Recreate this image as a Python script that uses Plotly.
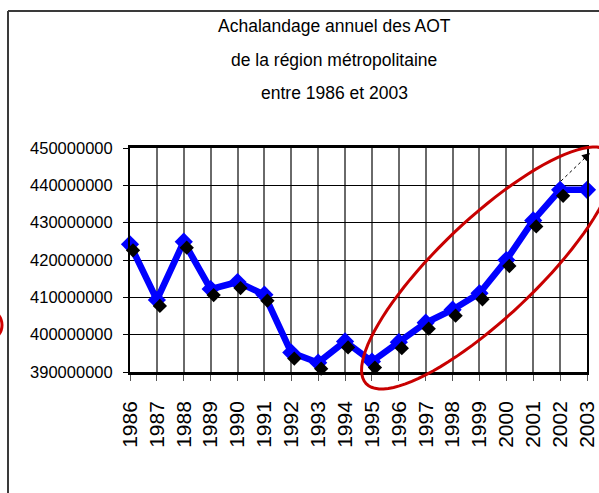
import math

import plotly.graph_objects as go

# annual ridership of the metropolitan transit authorities (AOT)
YEARS = list(range(1986, 2004))
RIDERSHIP = [
    424.2e6, 409.3e6, 424.9e6, 412.2e6, 414.1e6, 410.7e6, 395.2e6, 392.5e6, 398.2e6,
    392.8e6, 398.0e6, 403.2e6, 406.7e6, 411.1e6, 420.0e6, 430.6e6, 438.8e6, 438.8e6,
]
Y_TICKS = list(range(390_000_000, 450_000_001, 10_000_000))
X_LABELS = [str(y) for y in YEARS]
TITLE_LINES = [
    "Achalandage annuel des AOT",
    "de la région métropolitaine",
    "entre 1986 et 2003",
]

W, H = 599, 493
L, R, T, B = 130, 12, 148, 121
PW, PH = W - L - R, H - T - B
FONT = "Liberation Sans, Arial, sans-serif"

X_RANGE = [YEARS[0], YEARS[-1]]
Y_RANGE = [Y_TICKS[0], Y_TICKS[-1]]


def paper(x, y):
    # pixel position in the page -> paper coordinates
    return (x - L) / PW, (H - B - y) / PH


# black diamonds sit a few pixels down/right of the blue ones (shadow)
dx = 3 * (X_RANGE[1] - X_RANGE[0]) / PW
dy = 6 * (Y_RANGE[1] - Y_RANGE[0]) / PH

fig = go.Figure()
fig.add_trace(
    go.Scatter(
        x=YEARS,
        y=RIDERSHIP,
        mode="markers",
        marker={"symbol": "diamond", "size": 11, "color": "black"},
        xaxis="x2",
        yaxis="y2",
        cliponaxis=False,
        hoverinfo="skip",
        showlegend=False,
    )
)
fig.add_trace(
    go.Scatter(
        x=YEARS,
        y=RIDERSHIP,
        mode="lines+markers",
        line={"color": "#0000FF", "width": 6.5},
        marker={"symbol": "diamond", "size": 14, "color": "#0000FF"},
        cliponaxis=False,
        showlegend=False,
    )
)

# red ellipse around 1995-2003
cx, cy, a, b, ang = 488, 268, 168, 49, math.radians(43.5)
pts = []
for i in range(97):
    t = 2 * math.pi * i / 96
    ex, ey = a * math.cos(t), b * math.sin(t)
    px_ = cx + ex * math.cos(ang) + ey * math.sin(ang)
    py_ = cy - ex * math.sin(ang) + ey * math.cos(ang)
    pts.append(paper(px_, py_))
path = "M " + " L ".join(f"{x:.4f},{y:.4f}" for x, y in pts) + " Z"

shapes = [
    {"type": "path", "path": path, "xref": "paper", "yref": "paper",
     "line": {"color": "#C80000", "width": 3}},
]

# partial red circle on the left edge
x0, y0 = paper(-34, 342)
x1, y1 = paper(2, 308)
shapes.append({"type": "circle", "xref": "paper", "yref": "paper",
               "x0": x0, "y0": y0, "x1": x1, "y1": y1,
               "line": {"color": "#D00000", "width": 3}})

# outer chart frame (left and top edges visible)
bx0, by0 = paper(8, 11)
bx1, by1 = paper(8, 500)
bx2, _ = paper(610, 11)
shapes.append({"type": "line", "xref": "paper", "yref": "paper",
               "x0": bx0, "y0": by0, "x1": bx1, "y1": by1,
               "line": {"color": "#3a3a3a", "width": 2}})
shapes.append({"type": "line", "xref": "paper", "yref": "paper",
               "x0": bx0, "y0": by0, "x1": bx2, "y1": by0,
               "line": {"color": "#3a3a3a", "width": 2}})

# dotted arrow towards the top right
ax0, ay0 = paper(561, 181)
ax1, ay1 = paper(585, 158)
shapes.append({"type": "line", "xref": "paper", "yref": "paper",
               "x0": ax0, "y0": ay0, "x1": ax1, "y1": ay1,
               "line": {"color": "black", "width": 1, "dash": "dot"}})
tipx, tipy = paper(590, 153)

annotations = [
    {"x": tipx, "y": tipy, "xref": "paper", "yref": "paper", "text": "",
     "showarrow": True, "arrowhead": 2, "arrowsize": 1.6, "arrowwidth": 1,
     "arrowcolor": "black", "ax": -8, "ay": 7},
]
for line, ypx in zip(TITLE_LINES, [26, 60, 93]):
    tx, ty = paper(334, ypx)
    annotations.append({"x": tx, "y": ty, "xref": "paper", "yref": "paper",
                        "text": line, "showarrow": False,
                        "xanchor": "center", "yanchor": "middle",
                        "font": {"size": 17.5, "color": "black", "family": FONT}})

fig.update_layout(
    width=W,
    height=H,
    margin={"l": L, "r": R, "t": T, "b": B},
    paper_bgcolor="white",
    plot_bgcolor="white",
    font={"family": FONT, "color": "black"},
    shapes=shapes,
    annotations=annotations,
    xaxis={
        "range": X_RANGE,
        "tickvals": YEARS,
        "ticktext": X_LABELS,
        "tickangle": -90,
        "tickfont": {"size": 21},
        "ticks": "outside",
        "ticklen": 6,
        "tickcolor": "#555",
        "ticklabelstandoff": 12,
        "showgrid": True,
        "gridcolor": "#6a6a6a",
        "gridwidth": 1.5,
        "showline": True,
        "linecolor": "black",
        "linewidth": 2.5,
        "mirror": True,
        "zeroline": False,
        "automargin": False,
    },
    yaxis={
        "range": Y_RANGE,
        "tickvals": Y_TICKS,
        "tickformat": "d",
        "tickfont": {"size": 16.5},
        "ticks": "outside",
        "ticklen": 5,
        "tickcolor": "black",
        "ticklabelstandoff": 7,
        "showgrid": True,
        "gridcolor": "black",
        "gridwidth": 1,
        "showline": True,
        "linecolor": "black",
        "linewidth": 2,
        "mirror": True,
        "zeroline": False,
        "automargin": False,
    },
    xaxis2={"overlaying": "x", "range": [X_RANGE[0] - dx, X_RANGE[1] - dx], "visible": False},
    yaxis2={"overlaying": "y", "range": [Y_RANGE[0] + dy, Y_RANGE[1] + dy], "visible": False},
)

# the page's default body margin would shift the figure by 8px
fig.write_html(
    "out.html",
    config={"displayModeBar": False},
    post_script="document.body.style.margin = '0';",
)
